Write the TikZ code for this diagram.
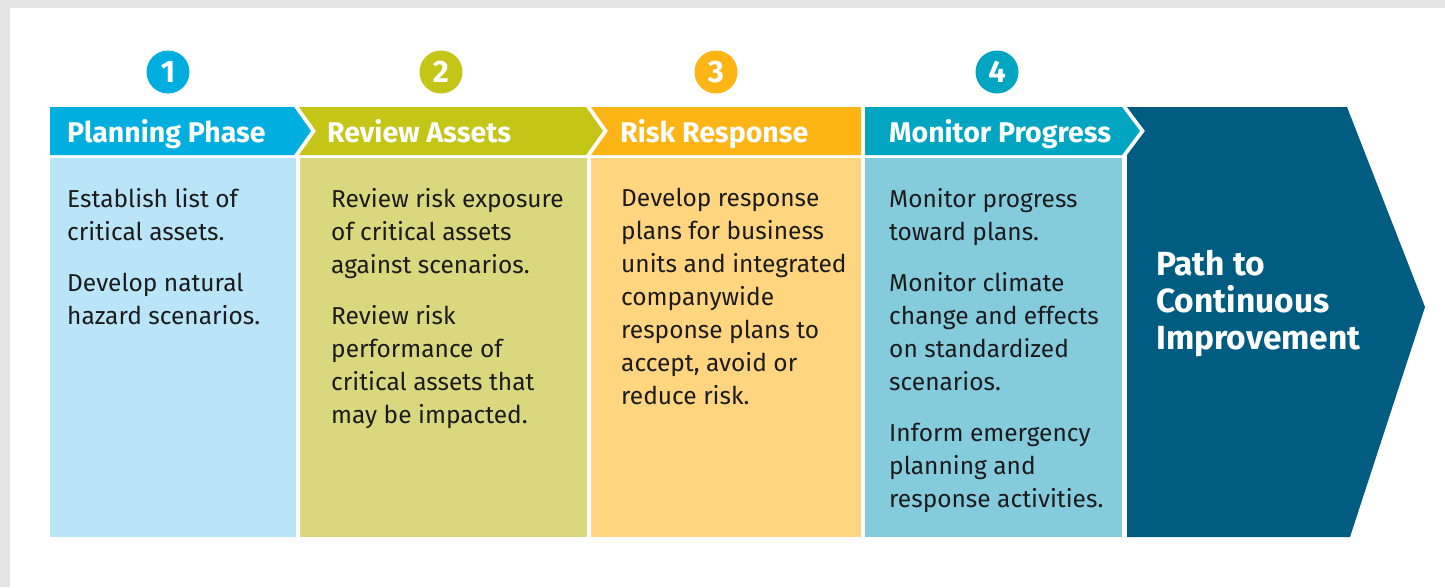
\documentclass[tikz,border=0pt]{standalone}
\usepackage{fontspec}
\setmainfont{Fira Sans}
\definecolor{planhead}{HTML}{00AEDF}
\definecolor{planbody}{HTML}{BAE5F9}
\definecolor{reviewhead}{HTML}{C4C516}
\definecolor{reviewbody}{HTML}{DAD87E}
\definecolor{riskhead}{HTML}{FDB515}
\definecolor{riskbody}{HTML}{FFD580}
\definecolor{monitorhead}{HTML}{00A5C2}
\definecolor{monitorbody}{HTML}{84CCDC}
\definecolor{pathblue}{HTML}{005C80}
\definecolor{textgray}{HTML}{1C1B1C}
\definecolor{shadowgray}{HTML}{E4E4E4}
\begin{document}
\begin{tikzpicture}[x=1pt, y=-1pt,
   stepnum/.style={circle, minimum size=43pt, inner sep=0pt, text=white,
                   font=\bfseries\fontsize{31}{31}\selectfont},
   headtext/.style={anchor=base west, inner sep=0pt, text=white,
                   font=\bfseries\fontsize{28.5}{32}\selectfont},
   bodytext/.style={anchor=north west, inner sep=0pt, align=left, text=textgray,
                   font=\fontsize{24.5}{33}\selectfont},
   pathtext/.style={anchor=north west, inner sep=0pt, align=left, text=white,
                   font=\bfseries\fontsize{33.5}{37}\selectfont}]

\useasboundingbox (0,0) rectangle (1445,587);
% page and its shadow
\fill[shadowgray] (0,0) rectangle (1445,587);
\fill[white] (10,8) rectangle (1445,587);

% step numbers
\node[stepnum, fill=planhead]    (num1) at (168,72) {1};
\node[stepnum, fill=reviewhead]  (num2) at (441,72) {2};
\node[stepnum, fill=riskhead]    (num3) at (716,72) {3};
\node[stepnum, fill=monitorhead] (num4) at (997,72) {4};

% header band
\fill[planhead]    (50,107) -- (294,107) -- (311,131) -- (294,155) -- (50,155) -- cycle;
\fill[reviewhead]  (299,107) -- (586,107) -- (603,131) -- (586,155) -- (299,155) -- (316,131) -- cycle;
\fill[riskhead]    (591,107) -- (861,107) -- (861,155) -- (591,155) -- (608,131) -- cycle;
\fill[monitorhead] (865,107) -- (1122,107) -- (1140,131) -- (1122,155) -- (865,155) -- cycle;

% bodies
\fill[planbody]    (50,158) rectangle (296,537);
\fill[reviewbody]  (300,158) rectangle (587,537);
\fill[riskbody]    (591,158) rectangle (861,537);
\fill[monitorbody] (865,158) rectangle (1122,537);

% last chevron
\fill[pathblue] (1127,107) -- (1347,107) -- (1425,307) -- (1350,537) -- (1127,537)
   -- (1127,155) -- (1145,131) -- cycle;

\node[headtext] (head-plan)    at (67,142)  {Planning Phase};
\node[headtext] (head-review)  at (327,142) {Review Assets};
\node[headtext] (head-risk)    at (620,142) {Risk Response};
\node[headtext] (head-monitor) at (889,142) {Monitor Progress};

\node[bodytext] (body-plan) at (67,188) {Establish list of\\critical assets.\\[18pt]
   Develop natural\\hazard scenarios.};
\node[bodytext] (body-review) at (331,188) {Review risk exposure\\of critical assets\\against scenarios.\\[18pt]
   Review risk\\performance of\\critical assets that\\may be impacted.};
\node[bodytext] (body-risk) at (621,188) {Develop response\\plans for business\\units and integrated\\companywide\\response plans to\\accept, avoid or\\reduce risk.};
\node[bodytext] (body-monitor) at (889,188) {Monitor progress\\toward plans.\\[18pt]
   Monitor climate\\change and effects\\on standardized\\scenarios.\\[18pt]
   Inform emergency\\planning and\\response activities.};

\node[pathtext] (path) at (1156,250) {Path to\\Continuous\\Improvement};

\end{tikzpicture}
\end{document}
